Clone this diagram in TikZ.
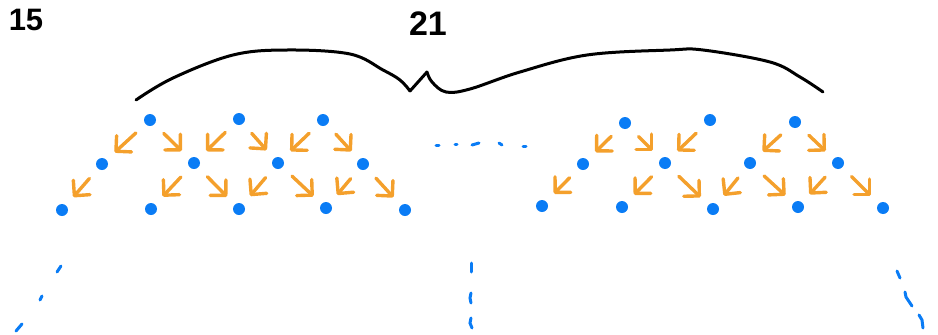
\documentclass[tikz,border=0pt]{standalone}
\usepackage{fontspec}
\setsansfont{Liberation Sans}
\usetikzlibrary{arrows.meta}
\definecolor{dotblue}{HTML}{0A7CF5}
\definecolor{arrorange}{HTML}{F4A02C}
\begin{document}
\begin{tikzpicture}[x=1pt,y=-1pt,
  dot/.style={circle,fill=dotblue,inner sep=0pt,minimum size=12pt},
  arr/.style={draw=arrorange,line width=3.4pt,line cap=round,line join=round,
    -{Straight Barb[length=11pt,width=22pt,round]},shorten <=13pt,shorten >=11pt},
  pen/.style={draw=black,line width=3pt,line cap=round,line join=round},
  bluepen/.style={draw=dotblue,line width=3pt,line cap=round},
  hand/.style={inner sep=0pt}]
\useasboundingbox (0,0) rectangle (938,335);
% labels
\node[hand,font=\sffamily\bfseries\fontsize{31}{31}\selectfont] (lab15) at (26,20) {15};
\node[hand,font=\sffamily\bfseries\fontsize{34}{34}\selectfont] (lab21) at (428,24) {21};
% brace
\draw[pen] plot[smooth,tension=0.6] coordinates {(136,100) (173,78) (233,55) (287,50) (350,54) (383,70) (400,80) (410,91)};
\draw[pen] (410,91) -- (427,72);
\draw[pen] plot[smooth,tension=0.6] coordinates {(427,72) (432,82) (446,92) (470,89) (520,72) (587,55) (670,50) (703,50) (770,62) (800,77) (823,92)};
% left group
\node[dot] (t1) at (150,120) {};
\node[dot] (t2) at (239,119) {};
\node[dot] (t3) at (323,120) {};
\node[dot] (m1) at (102,164) {};
\node[dot] (m2) at (194,163) {};
\node[dot] (m3) at (278,163) {};
\node[dot] (m4) at (363,164) {};
\node[dot] (b1) at (62,210) {};
\node[dot] (b2) at (151,209) {};
\node[dot] (b3) at (239,209) {};
\node[dot] (b4) at (326,208) {};
\node[dot] (b5) at (405,210) {};
\draw[arr] (t1) -- (m1);
\draw[arr] (t1) -- (m2);
\draw[arr] (t2) -- (m2);
\draw[arr] (t2) -- (m3);
\draw[arr] (t3) -- (m3);
\draw[arr] (t3) -- (m4);
\draw[arr] (m1) -- (b1);
\draw[arr] (m2) -- (b2);
\draw[arr] (m2) -- (b3);
\draw[arr] (m3) -- (b3);
\draw[arr] (m3) -- (b4);
\draw[arr] (m4) -- (b4);
\draw[arr] (m4) -- (b5);
% dots in the middle
\draw[bluepen] (436,145) -- (439,145);
\draw[bluepen] (455,144) -- (457,144);
\draw[bluepen] (472,145) -- (479,143);
\draw[bluepen] (499,143) -- (502,145);
\draw[bluepen] (523,146) -- (526,146);
% right group
\node[dot] (ta) at (625,123) {};
\node[dot] (tb) at (710,120) {};
\node[dot] (tc) at (795,122) {};
\node[dot] (ma) at (583,164) {};
\node[dot] (mb) at (665,163) {};
\node[dot] (mc) at (750,163) {};
\node[dot] (md) at (838,163) {};
\node[dot] (ba) at (542,206) {};
\node[dot] (bb) at (622,207) {};
\node[dot] (bc) at (713,209) {};
\node[dot] (bd) at (798,207) {};
\node[dot] (be) at (883,208) {};
\draw[arr] (ta) -- (ma);
\draw[arr] (ta) -- (mb);
\draw[arr] (tb) -- (mb);
\draw[arr] (tc) -- (mc);
\draw[arr] (tc) -- (md);
\draw[arr] (ma) -- (ba);
\draw[arr] (mb) -- (bb);
\draw[arr] (mb) -- (bc);
\draw[arr] (mc) -- (bc);
\draw[arr] (mc) -- (bd);
\draw[arr] (md) -- (bd);
\draw[arr] (md) -- (be);
% dashed continuations below
\draw[bluepen] (61,266) -- (57,272);
\draw[bluepen] (42,296) -- (40,300);
\draw[bluepen] (22,324) -- (16,331);
\draw[bluepen] (471,263) -- (471,272);
\draw[bluepen] (471,293) -- (470,298) -- (471,303);
\draw[bluepen] (471,318) -- (470,323) -- (472,328);
\draw[bluepen] (897,271) -- (900,278);
\draw[bluepen] (905,292) -- (906,297) -- (912,306);
\draw[bluepen] (919,315) -- (922,320) -- (923,328);
\end{tikzpicture}
\end{document}
